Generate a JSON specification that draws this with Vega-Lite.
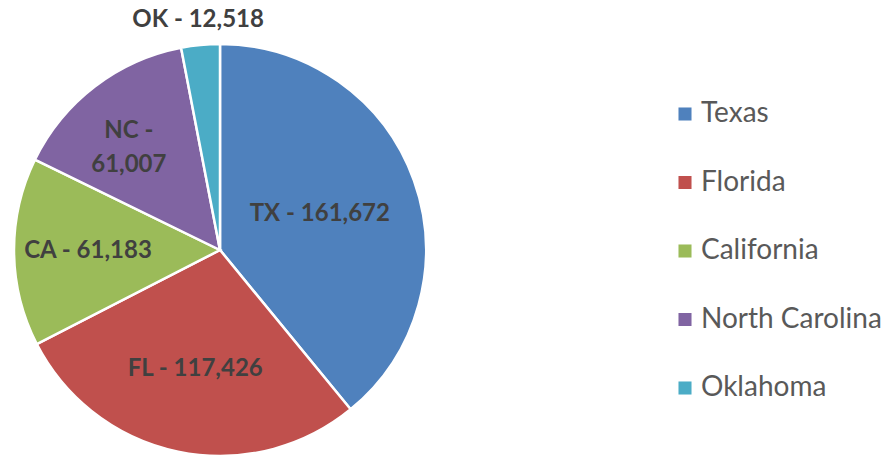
{
  "$schema": "https://vega.github.io/schema/vega-lite/v6.json",
  "width": 440,
  "height": 414,
  "padding": {"left": 0, "top": 43, "right": 453, "bottom": 0},
  "autosize": {"type": "none"},
  "background": "white",
  "config": {"view": {"stroke": null}, "font": "Lato"},
  "data": {
    "values": [
      {"state": "Texas", "value": 161672, "label": "TX - 161,672"},
      {"state": "Florida", "value": 117426, "label": "FL -  117,426"},
      {"state": "California", "value": 61183, "label": "CA -  61,183"},
      {"state": "North Carolina", "value": 61007, "label": "NC -\n61,007"},
      {"state": "Oklahoma", "value": 12518, "label": "OK - 12,518"}
    ]
  },
  "encoding": {
    "theta": {"field": "value", "type": "quantitative", "stack": true},
    "order": {"field": "order", "type": "quantitative"}
  },
  "transform": [
    {"window": [{"op": "row_number", "as": "order"}]}
  ],
  "layer": [
    {
      "mark": {"type": "arc", "outerRadius": 206, "stroke": "white", "strokeWidth": 2.5},
      "encoding": {
        "color": {
          "field": "state",
          "type": "nominal",
          "sort": ["Texas", "Florida", "California", "North Carolina", "Oklahoma"],
          "scale": {
            "domain": ["Texas", "Florida", "California", "North Carolina", "Oklahoma"],
            "range": ["#4F81BD", "#C0504D", "#9BBB59", "#8064A2", "#4BACC6"]
          },
          "legend": {
            "title": null,
            "orient": "none",
            "legendX": 671,
            "legendY": 57,
            "symbolType": "square",
            "symbolSize": 170,
            "symbolStrokeWidth": 0,
            "labelFontSize": 28,
            "labelFont": "Lato",
            "labelColor": "#595959",
            "labelOffset": 2,
            "rowPadding": 40.5,
            "labelLimit": 300
          }
        }
      }
    },
    {
      "mark": {"type": "text", "radius": 106, "fontSize": 24, "fontWeight": "bold", "color": "#404040"},
      "encoding": {"text": {"condition": {"test": "datum.state === 'Texas'", "field": "label"}, "value": ""}}
    },
    {
      "mark": {"type": "text", "radius": 122, "fontSize": 24, "fontWeight": "bold", "color": "#404040"},
      "encoding": {"text": {"condition": {"test": "datum.state === 'Florida'", "field": "label"}, "value": ""}}
    },
    {
      "mark": {"type": "text", "radius": 132, "fontSize": 24, "fontWeight": "bold", "color": "#404040"},
      "encoding": {"text": {"condition": {"test": "datum.state === 'California'", "field": "label"}, "value": ""}}
    },
    {
      "mark": {"type": "text", "radius": 150, "fontSize": 24, "fontWeight": "bold", "color": "#404040", "lineBreak": "\n", "lineHeight": 34},
      "encoding": {"text": {"condition": {"test": "datum.state === 'North Carolina'", "field": "label"}, "value": ""}}
    },
    {
      "mark": {"type": "text", "radius": 231, "fontSize": 24, "fontWeight": "bold", "color": "#404040"},
      "encoding": {"text": {"condition": {"test": "datum.state === 'Oklahoma'", "field": "label"}, "value": ""}}
    }
  ]
}
